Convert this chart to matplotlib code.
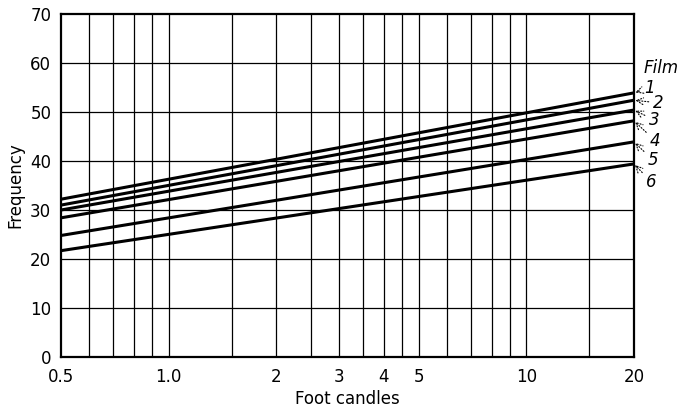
import matplotlib
matplotlib.use('Agg')
import matplotlib.pyplot as plt
from matplotlib.ticker import FixedLocator, NullLocator

# foot candles at the two ends of each straight line (log x axis)
x_ends = [0.5, 20]
film_names = ['1', '2', '3', '4', '5', '6']
freq_left = [32.2, 31.0, 30.0, 28.4, 24.8, 21.7]
freq_right = [53.9, 52.4, 50.4, 48.2, 43.9, 39.4]

x_ticks = [0.5, 1.0, 2, 3, 4, 5, 10, 20]
x_ticklabels = ['0.5', '1.0', '2', '3', '4', '5', '10', '20']
x_grid = [0.6, 0.7, 0.8, 0.9, 1.0, 1.5, 2, 2.5, 3, 3.5, 4, 4.5, 5, 6, 7, 8, 9, 10, 15]
y_ticks = [0, 10, 20, 30, 40, 50, 60, 70]

# where the film numbers sit (axes fraction)
label_pos = [(1.017, 0.784), (1.033, 0.741), (1.026, 0.691), (1.028, 0.630),
             (1.024, 0.574), (1.021, 0.510)]

plt.rcParams['font.family'] = ['DejaVu Sans']
fig = plt.figure(figsize=(6.87, 4.11), dpi=100)
ax = fig.add_axes([0.0888, 0.1314, 0.834, 0.8346])

ax.set_xscale('log')
ax.set_xlim(0.5, 20)
ax.set_ylim(0, 70)

for xv in x_grid:
    ax.axvline(xv, color='black', lw=0.9, zorder=1)
for yv in y_ticks[1:-1]:
    ax.axhline(yv, color='black', lw=0.9, zorder=1)

for name, y0, y1 in zip(film_names, freq_left, freq_right):
    ax.plot(x_ends, [y0, y1], color='black', lw=2.2, solid_capstyle='butt', zorder=3)

ax.xaxis.set_major_locator(FixedLocator(x_ticks))
ax.xaxis.set_minor_locator(NullLocator())
ax.set_xticklabels(x_ticklabels)
ax.set_yticks(y_ticks)
ax.tick_params(length=0, labelsize=12)
ax.tick_params(axis='x', pad=8)
ax.tick_params(axis='y', pad=7)
for s in ax.spines.values():
    s.set_linewidth(1.6)

ax.set_xlabel('Foot candles', fontsize=12, labelpad=3)
ax.set_ylabel('Frequency', fontsize=12, labelpad=4)

ax.text(1.016, 0.843, 'Film', transform=ax.transAxes, fontsize=12,
        style='italic', ha='left', va='center')
for name, y1, (lx, ly) in zip(film_names, freq_right, label_pos):
    ax.annotate(name, xy=(20, y1), xycoords='data',
                xytext=(lx, ly), textcoords='axes fraction',
                fontsize=12, style='italic', ha='left', va='center',
                annotation_clip=False,
                arrowprops=dict(arrowstyle='->', color='black', lw=0.8,
                                linestyle=':', shrinkA=1, shrinkB=1))

fig.savefig('out.png', dpi=100)
